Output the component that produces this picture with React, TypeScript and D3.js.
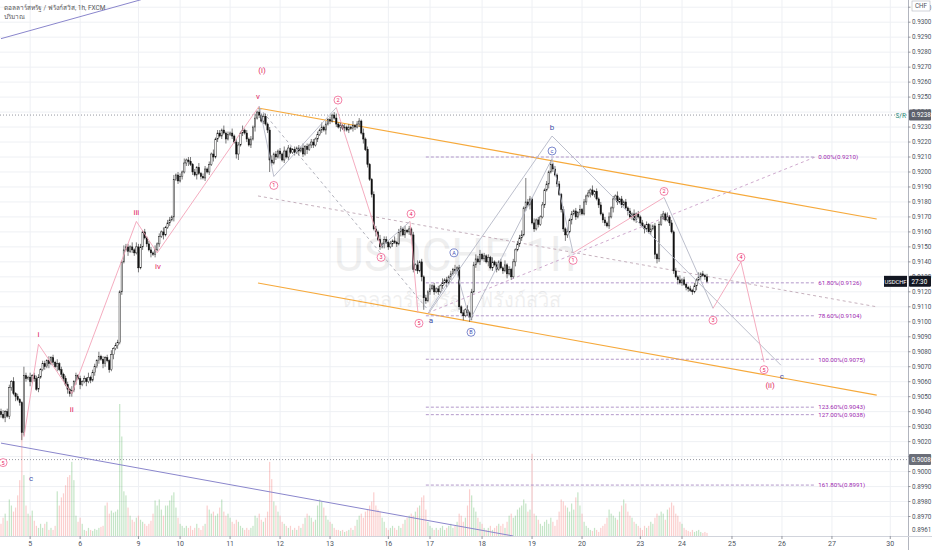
import React from "react";
import * as d3 from "d3";

// hourly closes in pips (0.9038 -> 9038), ten bars per row
const closeRows = [
  [9038, 9036, 9040, 9037, 9056, 9060, 9052, 9050, 9048, 9046],
  [9026, 9064, 9062, 9063, 9060, 9064, 9062, 9055, 9063, 9068],
  [9072, 9070, 9074, 9072, 9076, 9073, 9070, 9072, 9068, 9065],
  [9062, 9058, 9055, 9052, 9054, 9060, 9064, 9062, 9058, 9060],
  [9062, 9060, 9063, 9061, 9066, 9070, 9074, 9077, 9075, 9072],
  [9076, 9074, 9068, 9078, 9082, 9084, 9086, 9120, 9140, 9148],
  [9150, 9147, 9150, 9148, 9146, 9150, 9136, 9150, 9160, 9156],
  [9152, 9148, 9146, 9145, 9148, 9152, 9157, 9160, 9158, 9163],
  [9166, 9168, 9170, 9195, 9198, 9194, 9197, 9200, 9206, 9208],
  [9207, 9205, 9200, 9198, 9203, 9199, 9197, 9196, 9202, 9200],
  [9205, 9212, 9210, 9222, 9226, 9224, 9228, 9226, 9222, 9225],
  [9226, 9224, 9220, 9212, 9218, 9226, 9228, 9226, 9222, 9218],
  [9222, 9230, 9236, 9240, 9238, 9234, 9237, 9232, 9228, 9208],
  [9206, 9212, 9210, 9214, 9212, 9208, 9214, 9210, 9216, 9213],
  [9215, 9213, 9216, 9214, 9216, 9212, 9217, 9215, 9218, 9220],
  [9218, 9222, 9225, 9228, 9230, 9228, 9232, 9235, 9234, 9238],
  [9236, 9232, 9230, 9231, 9229, 9230, 9228, 9230, 9229, 9231],
  [9230, 9232, 9234, 9226, 9222, 9215, 9205, 9195, 9185, 9162],
  [9160, 9155, 9150, 9152, 9155, 9153, 9150, 9152, 9154, 9153],
  [9152, 9160, 9162, 9158, 9161, 9160, 9162, 9158, 9135, 9138],
  [9134, 9140, 9130, 9116, 9114, 9120, 9122, 9124, 9120, 9122],
  [9120, 9124, 9126, 9128, 9126, 9130, 9132, 9135, 9134, 9136],
  [9110, 9106, 9104, 9108, 9106, 9103, 9120, 9138, 9142, 9140],
  [9145, 9142, 9144, 9140, 9143, 9136, 9140, 9138, 9135, 9140],
  [9136, 9134, 9138, 9132, 9135, 9130, 9140, 9148, 9152, 9156],
  [9158, 9176, 9180, 9178, 9182, 9166, 9162, 9168, 9165, 9170],
  [9178, 9188, 9192, 9200, 9205, 9202, 9198, 9192, 9185, 9175],
  [9162, 9158, 9160, 9168, 9172, 9174, 9170, 9173, 9175, 9172],
  [9180, 9184, 9186, 9188, 9185, 9187, 9182, 9178, 9172, 9168],
  [9166, 9164, 9170, 9176, 9182, 9184, 9180, 9182, 9178, 9180],
  [9176, 9174, 9170, 9172, 9168, 9172, 9170, 9166, 9164, 9162],
  [9165, 9160, 9162, 9164, 9145, 9142, 9165, 9170, 9172, 9168],
  [9170, 9166, 9160, 9134, 9130, 9128, 9126, 9128, 9125, 9123],
  [9122, 9121, 9120, 9124, 9128, 9130, 9132, 9131, 9130, 9127],
];
const firstOpen = 9040;

// wick lengths in pips, one base-36 digit per bar
const upWickRows = [
  "2312213121", "1621312221", "2213121312", "1221312121", "2131221312",
  "1213122113", "2213132212", "1221312131", "2213122131", "2312131221",
  "2131221312", "1312213121", "2131312212", "3121213121", "1212131212",
  "2121312121", "2312121213", "1221312112", "2131221213", "1221312121",
  "3121213121", "2131212131", "2121312232", "3121213121", "2131212122",
  "31g2213121", "2121312121", "2131212131", "2121312121", "2131213121",
  "2121312121", "2131212221", "3121213121", "1212131212",
];
const dnWickRows = [
  "2131221312", "5221312121", "1213121312", "2132212131", "1312121213",
  "2121312121", "1312213121", "2131212131", "1213121212", "3121312121",
  "2131212131", "1213412121", "2131212128", "2121312121", "1213121312",
  "2121213121", "1213121212", "2121312121", "3121312121", "2131212121",
  "2138212121", "2121312121", "2131232121", "2121312121", "1213121312",
  "2121312121", "1213121212", "2421312121", "1213121212", "2121312121",
  "1312121213", "2121332121", "1212131212", "2121312121",
];

const volumeRows = [
  [12, 18, 22, 15, 36, 30, 24, 28, 40, 55],
  [103, 60, 30, 22, 20, 25, 15, 10, 8, 12],
  [8, 12, 14, 6, 8, 6, 10, 44, 30, 38],
  [42, 50, 58, 60, 73, 55, 20, 14, 18, 12],
  [6, 5, 8, 6, 5, 7, 6, 8, 9, 10],
  [30, 33, 22, 25, 23, 24, 26, 130, 98, 44],
  [40, 28, 20, 16, 14, 18, 20, 16, 14, 12],
  [10, 12, 15, 22, 35, 30, 36, 26, 20, 30],
  [30, 35, 40, 43, 28, 18, 12, 10, 8, 10],
  [8, 10, 6, 8, 12, 8, 6, 10, 12, 30],
  [26, 22, 24, 20, 22, 28, 36, 24, 20, 22],
  [18, 14, 12, 16, 14, 10, 8, 6, 8, 6],
  [8, 10, 20, 18, 22, 16, 14, 18, 24, 73],
  [56, 34, 30, 24, 20, 14, 12, 10, 8, 10],
  [6, 8, 6, 10, 8, 12, 18, 22, 20, 18],
  [14, 16, 30, 36, 34, 28, 20, 16, 14, 12],
  [8, 6, 6, 5, 6, 4, 5, 6, 8, 6],
  [10, 16, 20, 22, 18, 24, 26, 30, 34, 43],
  [30, 26, 24, 18, 14, 8, 6, 8, 10, 8],
  [6, 10, 8, 12, 16, 18, 20, 22, 20, 24],
  [28, 30, 38, 40, 26, 14, 10, 8, 6, 8],
  [6, 8, 10, 6, 8, 10, 12, 8, 10, 14],
  [22, 20, 14, 18, 30, 46, 40, 28, 24, 18],
  [14, 12, 8, 6, 8, 10, 6, 8, 10, 12],
  [10, 12, 8, 14, 20, 22, 18, 20, 26, 28],
  [30, 36, 32, 24, 26, 81, 22, 20, 16, 12],
  [10, 14, 16, 12, 18, 14, 10, 16, 24, 36],
  [34, 30, 28, 24, 32, 26, 38, 43, 30, 22],
  [14, 10, 8, 6, 5, 8, 6, 4, 8, 10],
  [12, 18, 26, 22, 20, 18, 16, 24, 30, 36],
  [32, 24, 20, 18, 14, 12, 10, 8, 6, 10],
  [8, 10, 14, 12, 18, 22, 20, 24, 22, 16],
  [26, 28, 33, 30, 22, 20, 14, 12, 8, 6],
  [5, 4, 6, 4, 5, 6, 4, 3, 4, 3],
];

const dayLabels = ["5", "6", "9", "10", "11", "12", "13", "16", "17", "18", "19", "20", "23", "24", "25", "26", "27", "30"];
const dayBars = [14, 38, 66, 86, 110, 134, 158, 186, 206, 231, 255, 279, 307, 327, 351, 375, 399, 427];

const fibLevels = ["0.00%", "61.80%", "78.60%", "100.00%", "123.60%", "127.00%", "161.80%"];
const fibPrices = [0.921, 0.9126, 0.9104, 0.9075, 0.9043, 0.9038, 0.8991];
const fibFromBar = 204;
const fibToBar = 390.5;

const srPrice = 0.9238;
const lowLinePrice = 0.9008;
const bottomAxisPrice = 0.8961;
const lastPriceCountdown = "27:30";

// wave paths: [bar, pips]
const impulseWave = [[11, 9023], [18, 9085], [34, 9052], [65, 9167], [75, 9146], [124, 9244]];
const subWave1 = [[124, 9244], [131, 9197], [161, 9243], [182.5, 9150], [196.4, 9167], [200.2, 9106]];
const smallAbc = [[205.5, 9107], [218.5, 9135], [225.2, 9101], [264.6, 9209]];
const bigAbc = [[205.5, 9106], [264.6, 9224], [374.5, 9071]];
const subWave2 = [[264.6, 9209], [274.7, 9146], [318.4, 9183], [341.9, 9109], [355.3, 9140], [366.4, 9073]];

const channelUpper = [[123.4, 9242.7], [420.5, 9168.6]];
const channelLower = [[123.4, 9125.9], [420.5, 9051.1]];
const midDashed = [[123.4, 9184], [420.5, 9110]];
const vToADashed = [[124, 9243], [205, 9108]];
const fibBaseDashed = [[205, 9106], [391, 9210]];
const trendTop = [[0, 9289], [67.2, 9315]];
const trendBottom = [[0, 9019], [246, 8957]];

const romanText = ["i", "ii", "iii", "iv", "v", "(i)", "(ii)"];
const romanBar = [18, 34, 65, 75.4, 123.4, 125.3, 369.3];
const romanPip = [9092, 9042, 9173, 9137, 9251, 9268, 9058];

const circNumText = ["5", "1", "2", "3", "4", "5", "1", "2", "3", "4", "5"];
const circNumBar = [1, 131, 161.8, 182.5, 196.9, 200.7, 274.7, 318.4, 341.9, 355.3, 366.4];
const circNumPip = [9006, 9191, 9248, 9143, 9172, 9099, 9141, 9187, 9101, 9143, 9068];

const circLetText = ["A", "B", "c"];
const circLetBar = [217.5, 225.7, 264.6];
const circLetPip = [9146, 9093, 9214];

const letText = ["a", "b", "c", "c"];
const letBar = [206.5, 264.6, 375, 14.4];
const letPip = [9101, 9230, 9064, 8996];

const FONT = "Roboto, 'Noto Sans', 'DejaVu Sans', sans-serif";
const W = 932;
const H = 550;
const PR = 908; // price axis left edge
const PB = 536; // time axis top edge

export default function App() {
  const closes = closeRows.flat();
  const vols = volumeRows.flat();
  const candles = closes.map((c, i) => {
    const o = i === 0 ? firstOpen : closes[i - 1];
    const uw = parseInt(upWickRows[Math.floor(i / 10)]?.[i % 10] ?? "1", 36);
    const dw = parseInt(dnWickRows[Math.floor(i / 10)]?.[i % 10] ?? "1", 36);
    return {
      i,
      o: o / 1e4,
      c: c / 1e4,
      h: (Math.max(o, c) + uw) / 1e4,
      l: (Math.min(o, c) - dw) / 1e4,
      v: vols[i] ?? 0,
    };
  });

  const x = d3.scaleLinear().domain([0, 436]).range([1, 909]);
  const y = d3.scaleLinear().domain([0.931481, 0.8957]).range([0, PB]);
  const vy = d3.scaleLinear().domain([0, 130]).range([PB, PB - 132]);

  const line = d3
    .line<number[]>()
    .x((d) => x(d[0]))
    .y((d) => y(d[1] / 1e4));

  const priceTicks = y.ticks(36).filter((t) => y(t) > 4 && y(t) < 522);
  const lastC = candles[candles.length - 1].c;

  const segColors1 = ["#b4b8c6", "#b4b8c6", "#f3a3b8", "#b4b8c6", "#f3a3b8"];
  const segColors2 = ["#b4b8c6", "#f3a3b8", "#b4b8c6", "#f3a3b8", "#f3a3b8"];

  const segs = (pts: number[][], colors: string[]) =>
    pts.slice(1).map((p, k) => (
      <path key={k} d={line([pts[k], p]) ?? ""} stroke={colors[k]} strokeWidth={0.9} fill="none" />
    ));

  const axisBox = (price: number, label: string, fill: string) => (
    <g>
      <rect x={PR + 1} y={y(price) - 5.5} width={W - PR - 2} height={11} fill={fill} rx={1} />
      <text x={PR + 3.5} y={y(price) + 2.3} fontSize={6.3} fill="#fff">
        {label}
      </text>
    </g>
  );

  return (
    <div>
      <style>{`body{margin:0}`}</style>
      <svg width={W} height={H} style={{ display: "block", background: "#fff", fontFamily: FONT }}>
        <defs>
          <clipPath id="plot">
            <rect x={0} y={0} width={PR} height={PB} />
          </clipPath>
        </defs>

        {/* grid */}
        {priceTicks.map((t) => (
          <line key={t} x1={0} x2={PR} y1={y(t)} y2={y(t)} stroke="#eef0f4" strokeWidth={1} />
        ))}
        {dayBars.map((b, k) => (
          <line key={k} x1={x(b)} x2={x(b)} y1={0} y2={PB} stroke="#eef0f4" strokeWidth={1} />
        ))}

        {/* watermark */}
        <text x={455} y={271} textAnchor="middle" fontSize={46} fill="#000" opacity={0.06}>
          USDCHF, 1h
        </text>
        <text x={452} y={307} textAnchor="middle" fontSize={20} fill="#000" opacity={0.06}>
          ดอลลาร์สหรัฐ / ฟรังก์สวิส
        </text>

        <g clipPath="url(#plot)">
          {/* volume */}
          {candles.map((d) => (
            <rect
              key={d.i}
              x={x(d.i) - 0.6}
              y={vy(d.v)}
              width={1.2}
              height={PB - vy(d.v)}
              fill={d.c >= d.o ? "rgba(76,175,80,0.32)" : "rgba(239,83,80,0.28)"}
            />
          ))}

          {/* horizontal dotted levels */}
          <line x1={0} x2={PR} y1={y(srPrice)} y2={y(srPrice)} stroke="#9598a1" strokeDasharray="1,2" />
          <line x1={0} x2={PR} y1={y(lowLinePrice)} y2={y(lowLinePrice)} stroke="#9598a1" strokeDasharray="1,2" />

          {/* trend lines */}
          <path d={line(trendTop) ?? ""} stroke="#8a86cc" strokeWidth={1} fill="none" />
          <path d={line(trendBottom) ?? ""} stroke="#8a86cc" strokeWidth={1} fill="none" />
          <path d={line(channelUpper) ?? ""} stroke="#f6a93b" strokeWidth={1.2} fill="none" />
          <path d={line(channelLower) ?? ""} stroke="#f6a93b" strokeWidth={1.2} fill="none" />
          <path d={line(midDashed) ?? ""} stroke="#c0a8b6" strokeWidth={0.9} strokeDasharray="3,3" fill="none" />
          <path d={line(vToADashed) ?? ""} stroke="#a8a9b4" strokeWidth={0.9} strokeDasharray="3,3" fill="none" />
          <path d={line(fibBaseDashed) ?? ""} stroke="#c9a0c8" strokeWidth={0.9} strokeDasharray="3,3" fill="none" />

          {/* fib extension */}
          {fibPrices.map((p, k) => (
            <line
              key={k}
              x1={x(fibFromBar)}
              x2={x(fibToBar)}
              y1={y(p)}
              y2={y(p)}
              stroke="#a98cc4"
              strokeWidth={0.9}
              strokeDasharray="3,2"
            />
          ))}

          {/* candles */}
          {candles.map((d) => {
            const up = d.c >= d.o;
            const top = y(Math.max(d.o, d.c));
            const bh = Math.max(0.8, Math.abs(y(d.o) - y(d.c)));
            return (
              <g key={d.i}>
                <line x1={x(d.i)} x2={x(d.i)} y1={y(d.h)} y2={y(d.l)} stroke="#222" strokeWidth={0.6} />
                <rect
                  x={x(d.i) - 0.7}
                  y={top}
                  width={1.4}
                  height={bh}
                  fill={up ? "#fff" : "#111"}
                  stroke="#111"
                  strokeWidth={0.45}
                />
              </g>
            );
          })}

          {/* wave lines */}
          {segs(impulseWave, impulseWave.map(() => "#f3a3b8"))}
          {segs(subWave1, segColors1)}
          {segs(smallAbc, smallAbc.map(() => "#b4b8c6"))}
          {segs(bigAbc, bigAbc.map(() => "#b4b8c6"))}
          {segs(subWave2, segColors2)}

          {/* labels */}
          {romanText.map((t, k) => (
            <text key={k} x={x(romanBar[k])} y={y(romanPip[k] / 1e4) + 3} textAnchor="middle" fontSize={8} fill="#e0245e">
              {t}
            </text>
          ))}
          {circNumText.map((t, k) => (
            <g key={k}>
              <circle cx={x(circNumBar[k])} cy={y(circNumPip[k] / 1e4)} r={4} fill="#fff" stroke="#f06292" strokeWidth={0.8} />
              <text x={x(circNumBar[k])} y={y(circNumPip[k] / 1e4) + 2} textAnchor="middle" fontSize={5.5} fill="#e91e63">
                {t}
              </text>
            </g>
          ))}
          {circLetText.map((t, k) => (
            <g key={k}>
              <circle cx={x(circLetBar[k])} cy={y(circLetPip[k] / 1e4)} r={4} fill="#fff" stroke="#5c6bc0" strokeWidth={0.8} />
              <text x={x(circLetBar[k])} y={y(circLetPip[k] / 1e4) + 2} textAnchor="middle" fontSize={5.5} fill="#3f51b5">
                {t}
              </text>
            </g>
          ))}
          {letText.map((t, k) => (
            <text key={k} x={x(letBar[k])} y={y(letPip[k] / 1e4) + 3} textAnchor="middle" fontSize={8} fill="#3f4fa8">
              {t}
            </text>
          ))}
        </g>

        {/* fib labels */}
        {fibPrices.map((p, k) => (
          <text key={k} x={x(fibToBar) + 4} y={y(p) + 2.3} fontSize={6.2} fill="#9c27b0">
            {`${fibLevels[k]}(${p.toFixed(4)})`}
          </text>
        ))}

        <text x={PR - 2} y={y(srPrice) + 2.5} textAnchor="end" fontSize={6.5} fill="#2a8f80">
          S/R
        </text>

        {/* legend */}
        <text x={4} y={10} fontSize={6.5} fill="#555">
          ดอลลาร์สหรัฐ / ฟรังก์สวิส, 1h, FXCM
        </text>
        <text x={4} y={19} fontSize={6.5} fill="#555">
          ปริมาณ
        </text>

        {/* price axis */}
        <line x1={PR + 0.5} x2={PR + 0.5} y1={0} y2={H} stroke="#b2b5be" />
        {priceTicks.map((t) => (
          <g key={t}>
            <line x1={PR} x2={PR + 2.5} y1={y(t)} y2={y(t)} stroke="#9598a1" />
            <text x={PR + 4} y={y(t) + 2.3} fontSize={6.3} fill="#4c525e">
              {t.toFixed(4)}
            </text>
          </g>
        ))}
        <text x={PR + 4} y={y(bottomAxisPrice) + 2.3} fontSize={6.3} fill="#4c525e">
          {bottomAxisPrice.toFixed(4)}
        </text>
        <rect x={PR + 4} y={1} width={18} height={10} fill="#fff" stroke="#b2b5be" strokeWidth={0.6} />
        <text x={PR + 13} y={8.3} textAnchor="middle" fontSize={6.3} fill="#4c525e">
          CHF
        </text>
        {axisBox(srPrice, srPrice.toFixed(4), "#5d606b")}
        {axisBox(lowLinePrice, lowLinePrice.toFixed(4), "#6b6e78")}
        {axisBox(lastC, lastPriceCountdown, "#131722")}
        <rect x={PR - 24} y={y(lastC) - 5.5} width={23} height={11} fill="#131722" />
        <text x={PR - 12.5} y={y(lastC) + 2.2} textAnchor="middle" fontSize={5.8} fill="#fff">
          USDCHF
        </text>

        {/* time axis */}
        <line x1={0} x2={W} y1={PB + 0.5} y2={PB + 0.5} stroke="#d1d4dc" />
        {dayBars.map((b, k) => (
          <g key={k}>
            <line x1={x(b)} x2={x(b)} y1={PB} y2={PB + 3} stroke="#9598a1" />
            <text x={x(b)} y={546} textAnchor="middle" fontSize={7} fill="#4c525e">
              {dayLabels[k]}
            </text>
          </g>
        ))}
      </svg>
    </div>
  );
}
